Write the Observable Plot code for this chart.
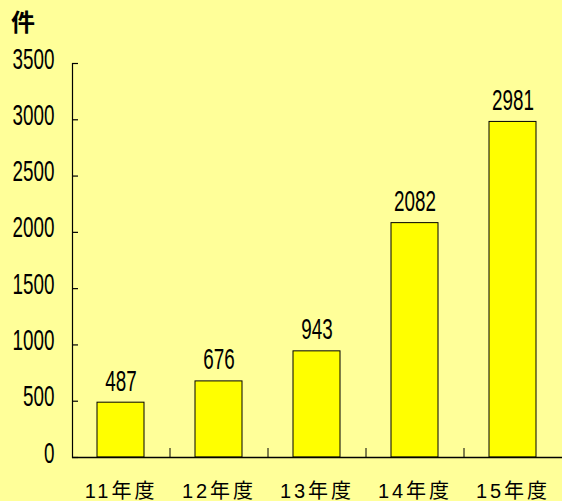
<!DOCTYPE html>
<html>
<head>
<meta charset="utf-8">
<script src="https://cdn.jsdelivr.net/npm/d3@7"></script>
<script src="https://cdn.jsdelivr.net/npm/@observablehq/plot@0.6"></script>
<style>
  html, body { margin: 0; padding: 0; background: #FFFF99; }
  #wrap { position: relative; width: 562px; height: 501px; }
  #unit { position: absolute; left: 11px; top: 9px; font-family: "Noto Sans CJK JP", sans-serif; font-weight: 700; font-size: 24px; line-height: 1; color: #000; }
</style>
</head>
<body>
<div id="wrap"><div id="unit">件</div></div>
<script>
const categories = ["11年度", "12年度", "13年度", "14年度", "15年度"];
const values = [487, 676, 943, 2082, 2981];
const yTicks = [0, 500, 1000, 1500, 2000, 2500, 3000, 3500];

const data = categories.map((c, i) => ({ year: c, count: values[i] }));

const W = 562, H = 501, mL = 72, mR = 0, mT = 63, mB = 44;
const frameW = W - mL - mR, frameH = H - mT - mB;
const step = frameW / categories.length;

const chart = Plot.plot({
  width: W,
  height: H,
  marginLeft: mL,
  marginRight: mR,
  marginTop: mT,
  marginBottom: mB,
  style: { background: "transparent", fontFamily: "Liberation Sans, Arial, sans-serif", color: "#000" },
  x: { domain: categories, paddingInner: 0.52, paddingOuter: 0.26, axis: null },
  y: { domain: [0, 3500], axis: null },
  marks: [
    Plot.barY(data, { x: "year", y: "count", fill: "#FFFF00", stroke: "#000", strokeWidth: 1 }),
    Plot.text(data, { x: "year", y: "count", text: d => String(d.count), lineAnchor: "bottom", dy: -12, fontSize: 29, fill: "#000" }),
    Plot.ruleY([0], { stroke: "#000", strokeWidth: 1.5 }),
    Plot.frame({ anchor: "left", stroke: "#000", strokeWidth: 1.2 }),
    Plot.tickY(yTicks, { y: d => d, insetRight: frameW - 6, stroke: "#000", strokeWidth: 1.2 }),
    Plot.tickX(categories.slice(1), { x: d => d, dx: -step / 2, insetTop: frameH - 9, stroke: "#000", strokeWidth: 1 }),
    Plot.axisY({ ticks: yTicks, tickSize: 0, tickPadding: 18, fontSize: 29, dy: 5, label: null, tickFormat: d => String(d) }),
    Plot.axisX({ tickSize: 0, tickPadding: 26, fontSize: 20, label: null, fontFamily: "Liberation Sans, Noto Sans CJK JP, sans-serif" })
  ]
});

// condense numeric labels horizontally
d3.select(chart).selectAll('g[aria-label="y-axis tick label"] text, g[aria-label="text"] text').each(function () {
  let t = this.getAttribute("transform") || "";
  const x = this.getAttribute("x"), y = this.getAttribute("y");
  if (x != null || y != null) {
    t = `translate(${+x || 0},${+y || 0}) ` + t;
    this.removeAttribute("x");
    this.removeAttribute("y");
  }
  this.setAttribute("transform", (t + " scale(0.65,1)").trim());
});
d3.select(chart).selectAll('g[aria-label="x-axis tick label"] text').attr("letter-spacing", "3px");

document.getElementById("wrap").prepend(chart);
</script>
</body>
</html>
